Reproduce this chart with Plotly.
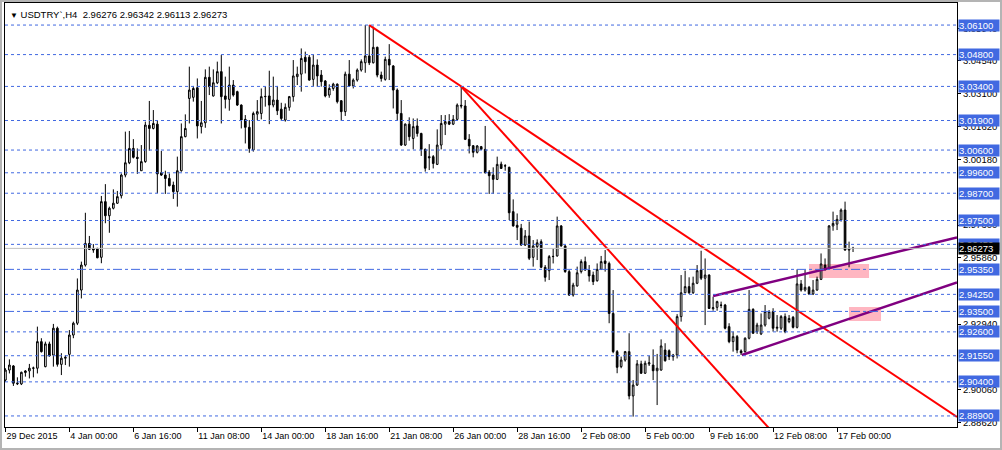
import plotly.graph_objects as go

# ── Data (USDTRY, H4 bars) ───────────────────────────────────────────────────
OPEN = [
    2.9048, 2.9092, 2.9110, 2.9031, 2.9031, 2.9081, 2.9088, 2.9100, 2.9100, 2.9217,
    2.9107, 2.9207, 2.9158, 2.9276, 2.9117, 2.9144, 2.9161, 2.9246, 2.9298, 2.9444,
    2.9554, 2.9649, 2.9627, 2.9627, 2.9588, 2.9833, 2.9771, 2.9804, 2.9826, 2.9859,
    2.9950, 3.0004, 3.0067, 3.0028, 2.9969, 3.0009, 3.0169, 3.0155, 3.0174, 2.9960,
    2.9950, 2.9935, 2.9906, 2.9877, 2.9969, 3.0119, 3.0287, 3.0292, 3.0334, 3.0163,
    3.0180, 3.0380, 3.0298, 3.0356, 3.0405, 3.0298, 3.0283, 3.0346, 3.0317, 3.0258,
    3.0195, 3.0160, 3.0060, 3.0218, 3.0221, 3.0295, 3.0298, 3.0258, 3.0280, 3.0240,
    3.0192, 3.0248, 3.0295, 3.0383, 3.0394, 3.0468, 3.0468, 3.0371, 3.0434, 3.0390,
    3.0364, 3.0302, 3.0331, 3.0350, 3.0277, 3.0229, 3.0394, 3.0342, 3.0368, 3.0412,
    3.0444, 3.0474, 3.0444, 3.0512, 3.0390, 3.0371, 3.0459, 3.0430, 3.0324, 3.0221,
    3.0082, 3.0174, 3.0111, 3.0166, 3.0133, 3.0063, 3.0031, 3.0031, 2.9997, 3.0082,
    3.0174, 3.0185, 3.0174, 3.0195, 3.0257, 3.0254, 3.0107, 3.0079, 3.0050, 3.0075,
    3.0063, 2.9963, 2.9950, 2.9931, 2.9998, 2.9991, 2.9984, 2.9789, 2.9729, 2.9716,
    2.9642, 2.9682, 2.9588, 2.9635, 2.9657, 2.9544, 2.9529, 2.9591, 2.9594, 2.9726,
    2.9638, 2.9525, 2.9422, 2.9462, 2.9525, 2.9569, 2.9532, 2.9510, 2.9485, 2.9535,
    2.9572, 2.9561, 2.9341, 2.9173, 2.9107, 2.9136, 2.9173, 2.8978, 2.9026, 2.9119,
    2.9078, 2.9119, 2.9114, 2.9089, 2.9092, 2.9180, 2.9177, 2.9158, 2.9158, 2.9327,
    2.9432, 2.9459, 2.9432, 2.9474, 2.9532, 2.9496, 2.9510, 2.9362, 2.9368, 2.9378,
    2.9378, 2.9283, 2.9217, 2.9239, 2.9176, 2.9173, 2.9232, 2.9359, 2.9261, 2.9251,
    2.9290, 2.9320, 2.9349, 2.9276, 2.9276, 2.9327, 2.9305, 2.9324, 2.9280, 2.9471,
    2.9444, 2.9456, 2.9427, 2.9444, 2.9491, 2.9554, 2.9544, 2.9726, 2.9734, 2.9752,
    2.9796, 2.9620, 2.96276,
]
HIGH = [
    2.9100, 2.9139, 2.9114, 2.9060, 2.9085, 2.9092, 2.9119, 2.9107, 2.9283, 2.9232,
    2.9217, 2.9217, 2.9295, 2.9283, 2.9166, 2.9158, 2.9268, 2.9305, 2.9495, 2.9569,
    2.9784, 2.9682, 2.9646, 2.9630, 2.9858, 2.9910, 2.9811, 2.9887, 2.9880, 2.9957,
    3.0141, 3.0144, 3.0108, 3.0067, 3.0082, 3.0185, 3.0276, 3.0236, 3.0189, 3.0056,
    2.9969, 2.9957, 2.9921, 3.0031, 3.0177, 3.0217, 3.0427, 3.0342, 3.0375, 3.0276,
    3.0415, 3.0427, 3.0415, 3.0449, 3.0478, 3.0383, 3.0427, 3.0368, 3.0321, 3.0261,
    3.0214, 3.0192, 3.0229, 3.0280, 3.0331, 3.0339, 3.0409, 3.0383, 3.0342, 3.0268,
    3.0265, 3.0298, 3.0456, 3.0427, 3.0507, 3.0493, 3.0478, 3.0478, 3.0459, 3.0412,
    3.0368, 3.0349, 3.0356, 3.0353, 3.0280, 3.0405, 3.0456, 3.0375, 3.0419, 3.0459,
    3.0610, 3.0610, 3.0603, 3.0515, 3.0405, 3.0471, 3.0526, 3.0434, 3.0331, 3.0280,
    3.0177, 3.0204, 3.0199, 3.0199, 3.0136, 3.0067, 3.0086, 3.0038, 3.0151, 3.0214,
    3.0214, 3.0218, 3.0214, 3.0265, 3.0339, 3.0280, 3.0130, 3.0082, 3.0082, 3.0078,
    3.0166, 2.9972, 2.9984, 3.0031, 3.0009, 2.9998, 2.9987, 2.9843, 2.9781, 2.9735,
    2.9708, 2.9745, 2.9664, 2.9667, 2.9667, 2.9554, 2.9598, 2.9627, 2.9767, 2.9730,
    2.9642, 2.9532, 2.9476, 2.9547, 2.9579, 2.9591, 2.9554, 2.9525, 2.9561, 2.9594,
    2.9620, 2.9569, 2.9444, 2.9180, 2.9151, 2.9176, 2.9254, 2.9048, 2.9136, 2.9133,
    2.9133, 2.9154, 2.9183, 2.9163, 2.9227, 2.9210, 2.9183, 2.9163, 2.9338, 2.9510,
    2.9529, 2.9500, 2.9503, 2.9554, 2.9617, 2.9583, 2.9513, 2.9415, 2.9397, 2.9393,
    2.9383, 2.9298, 2.9261, 2.9246, 2.9183, 2.9236, 2.9444, 2.9364, 2.9300, 2.9341,
    2.9378, 2.9356, 2.9364, 2.9334, 2.9334, 2.9341, 2.9334, 2.9330, 2.9535, 2.9488,
    2.9532, 2.9462, 2.9488, 2.9503, 2.9605, 2.9583, 2.9730, 2.9789, 2.9774, 2.9803,
    2.9833, 2.9657, 2.96342,
]
LOW = [
    2.9041, 2.9077, 2.9022, 2.9026, 2.9026, 2.9063, 2.9055, 2.9060, 2.9077, 2.9169,
    2.9104, 2.9151, 2.9107, 2.9107, 2.9070, 2.9114, 2.9107, 2.9232, 2.9290, 2.9407,
    2.9547, 2.9620, 2.9608, 2.9584, 2.9562, 2.9738, 2.9696, 2.9799, 2.9823, 2.9847,
    2.9940, 2.9998, 3.0023, 2.9955, 2.9968, 3.0004, 3.0057, 3.0151, 2.9870, 2.9946,
    2.9867, 2.9900, 2.9845, 2.9811, 2.9965, 3.0116, 3.0177, 3.0273, 3.0111, 3.0133,
    3.0158, 3.0302, 3.0295, 3.0350, 3.0177, 3.0243, 3.0233, 3.0295, 3.0254, 3.0155,
    3.0089, 3.0048, 3.0053, 3.0192, 3.0195, 3.0251, 3.0174, 3.0248, 3.0214, 3.0189,
    3.0185, 3.0233, 3.0273, 3.0346, 3.0317, 3.0397, 3.0365, 3.0342, 3.0339, 3.0339,
    3.0292, 3.0290, 3.0321, 3.0265, 3.0189, 3.0210, 3.0339, 3.0331, 3.0361, 3.0405,
    3.0400, 3.0434, 3.0441, 3.0380, 3.0361, 3.0365, 3.0368, 3.0243, 3.0192, 3.0078,
    3.0078, 3.0101, 3.0063, 3.0119, 3.0034, 2.9965, 2.9972, 2.9979, 2.9994, 3.0063,
    3.0126, 3.0170, 3.0170, 3.0192, 3.0243, 3.0104, 3.0045, 3.0028, 3.0045, 3.0060,
    2.9957, 2.9867, 2.9867, 2.9928, 2.9977, 2.9969, 2.9752, 2.9723, 2.9664, 2.9639,
    2.9638, 2.9576, 2.9547, 2.9576, 2.9540, 2.9481, 2.9488, 2.9561, 2.9591, 2.9635,
    2.9520, 2.9418, 2.9415, 2.9459, 2.9517, 2.9529, 2.9481, 2.9466, 2.9481, 2.9532,
    2.9525, 2.9298, 2.9166, 2.9078, 2.9100, 2.9129, 2.8963, 2.8887, 2.9022, 2.9075,
    2.9075, 2.9110, 2.9048, 2.8938, 2.9089, 2.9129, 2.9136, 2.9133, 2.9143, 2.9305,
    2.9430, 2.9427, 2.9427, 2.9470, 2.9488, 2.9290, 2.9361, 2.9353, 2.9353, 2.9364,
    2.9271, 2.9210, 2.9173, 2.9166, 2.9158, 2.9168, 2.9227, 2.9251, 2.9251, 2.9246,
    2.9283, 2.9315, 2.9261, 2.9261, 2.9268, 2.9254, 2.9298, 2.9275, 2.9275, 2.9437,
    2.9437, 2.9422, 2.9422, 2.9441, 2.9488, 2.9529, 2.9540, 2.9705, 2.9708, 2.9745,
    2.9617, 2.9544, 2.96113,
]
CLOSE = [
    2.9092, 2.9114, 2.9034, 2.9034, 2.9082, 2.9088, 2.9100, 2.9101, 2.9217, 2.9173,
    2.9207, 2.9154, 2.9276, 2.9117, 2.9144, 2.9148, 2.9246, 2.9298, 2.9444, 2.9554,
    2.9649, 2.9623, 2.9620, 2.9586, 2.9833, 2.9771, 2.9804, 2.9826, 2.9855, 2.9950,
    3.0004, 3.0067, 3.0028, 3.0023, 3.0009, 3.0170, 3.0155, 3.0177, 2.9955, 2.9950,
    2.9935, 2.9903, 2.9877, 2.9969, 3.0119, 3.0155, 3.0324, 3.0331, 3.0166, 3.0180,
    3.0380, 3.0339, 3.0356, 3.0405, 3.0295, 3.0283, 3.0346, 3.0302, 3.0258, 3.0192,
    3.0160, 3.0067, 3.0221, 3.0229, 3.0295, 3.0296, 3.0258, 3.0280, 3.0233, 3.0199,
    3.0248, 3.0295, 3.0386, 3.0394, 3.0463, 3.0449, 3.0368, 3.0434, 3.0386, 3.0361,
    3.0298, 3.0331, 3.0350, 3.0273, 3.0229, 3.0394, 3.0342, 3.0368, 3.0412, 3.0449,
    3.0474, 3.0444, 3.0512, 3.0390, 3.0375, 3.0459, 3.0434, 3.0324, 3.0221, 3.0082,
    3.0174, 3.0119, 3.0163, 3.0133, 3.0063, 2.9980, 3.0026, 3.0001, 3.0082, 3.0177,
    3.0185, 3.0174, 3.0195, 3.0258, 3.0254, 3.0107, 3.0078, 3.0050, 3.0078, 3.0063,
    2.9960, 2.9947, 2.9931, 2.9997, 2.9979, 2.9990, 2.9784, 2.9726, 2.9720, 2.9642,
    2.9682, 2.9584, 2.9638, 2.9652, 2.9544, 2.9500, 2.9591, 2.9592, 2.9726, 2.9638,
    2.9525, 2.9422, 2.9466, 2.9520, 2.9569, 2.9532, 2.9506, 2.9481, 2.9535, 2.9569,
    2.9561, 2.9341, 2.9173, 2.9104, 2.9136, 2.9173, 2.8978, 2.9026, 2.9119, 2.9078,
    2.9122, 2.9124, 2.9089, 2.9100, 2.9198, 2.9133, 2.9151, 2.9151, 2.9327, 2.9432,
    2.9459, 2.9432, 2.9474, 2.9529, 2.9496, 2.9510, 2.9363, 2.9366, 2.9393, 2.9377,
    2.9276, 2.9217, 2.9239, 2.9180, 2.9168, 2.9232, 2.9359, 2.9254, 2.9290, 2.9290,
    2.9350, 2.9349, 2.9276, 2.9280, 2.9327, 2.9261, 2.9319, 2.9280, 2.9471, 2.9444,
    2.9456, 2.9427, 2.9444, 2.9491, 2.9559, 2.9535, 2.9726, 2.9737, 2.9755, 2.9796,
    2.9620, 2.9624, 2.96273,
]
BARS = list(range(len(CLOSE)))

# time axis: one label every 16 H4 bars
TICK_BARS = list(range(0, 209, 16))
TICK_TEXT = ["29 Dec 2015", "4 Jan 00:00", "6 Jan 16:00", "11 Jan 08:00", "14 Jan 00:00",
             "18 Jan 16:00", "21 Jan 08:00", "26 Jan 00:00", "28 Jan 16:00", "2 Feb 08:00",
             "5 Feb 00:00", "9 Feb 16:00", "12 Feb 08:00", "17 Feb 00:00"]

# price scale labels (the ones not hidden by the level labels)
PRICE_TICKS = [3.0594, 3.0454, 3.0310, 3.0162, 3.0018, 2.9730, 2.9586, 2.9294, 2.9006, 2.8862]

# horizontal levels
LEVELS_DASH = [3.0610, 3.0480, 3.0340, 3.0190, 3.0060, 2.9960, 2.9870, 2.9750, 2.9645,
               2.9425, 2.9260, 2.9155, 2.9040, 2.8890]
LEVELS_DASHDOT = [2.9535, 2.9350]
BID = 2.96273

# trend lines: (bar, price) end points
RED_LINES = [([91, 238], [3.0610, 2.8886]),
             ([114, 200], [3.0339, 2.8660])]
PURPLE_LINES = [([177, 238], [2.9418, 2.9675]),
                ([184.2, 238], [2.9158, 2.9477])]
# support zones: (bar0, bar1, price0, price1)
ZONES = [(201, 216, 2.9497, 2.9559),
         (211, 219, 2.9308, 2.9369)]

# ── Style ────────────────────────────────────────────────────────────────────
BLUE = "#4169E1"
FONT = "Liberation Sans, Arial, sans-serif"
X_RANGE = [-0.1, 238.0]
Y_RANGE = [2.88414, 3.0707]

fig = go.Figure()
fig.add_trace(go.Candlestick(
    x=BARS, open=OPEN, high=HIGH, low=LOW, close=CLOSE,
    increasing=dict(fillcolor="#FFFFFF", line=dict(color="#000000", width=1)),
    decreasing=dict(fillcolor="#000000", line=dict(color="#000000", width=1)),
    whiskerwidth=0, showlegend=False, hoverinfo="skip",
))
for xs, ys in RED_LINES:
    fig.add_trace(go.Scatter(x=xs, y=ys, mode="lines", showlegend=False, hoverinfo="skip",
                             line=dict(color="#FF0000", width=2)))
for xs, ys in PURPLE_LINES:
    fig.add_trace(go.Scatter(x=xs, y=ys, mode="lines", showlegend=False, hoverinfo="skip",
                             line=dict(color="#800080", width=2.5)))

shapes = []
for b0, b1, p0, p1 in ZONES:
    shapes.append(dict(type="rect", xref="x", yref="y", x0=b0, x1=b1, y0=p0, y1=p1,
                       fillcolor="#FFB6C1", line=dict(width=0), layer="below"))
for lv in LEVELS_DASH:
    shapes.append(dict(type="line", xref="paper", yref="y", x0=0, x1=1, y0=lv, y1=lv,
                       line=dict(color=BLUE, width=1, dash="3px,3px")))
for lv in LEVELS_DASHDOT:
    shapes.append(dict(type="line", xref="paper", yref="y", x0=0, x1=1, y0=lv, y1=lv,
                       line=dict(color=BLUE, width=1, dash="9px,3px,3px,3px")))
shapes.append(dict(type="line", xref="paper", yref="y", x0=0, x1=1, y0=BID, y1=BID,
                   line=dict(color="#C0C0C0", width=1)))
# window frame
shapes.append(dict(type="rect", xref="paper", yref="paper",
                   x0=-4 / 952, x1=1 + 44 / 952, y0=-22 / 424, y1=1 + 2 / 424,
                   line=dict(color="#B4B4B4", width=2), fillcolor="rgba(0,0,0,0)"))

annotations = []
for lv in LEVELS_DASH + LEVELS_DASHDOT:
    annotations.append(dict(xref="paper", yref="y", x=1, y=lv, xanchor="left", yanchor="middle",
                            xshift=1, text=f"{lv:.5f}", showarrow=False, align="left",
                            width=40, height=11, borderpad=0, bgcolor=BLUE,
                            font=dict(family=FONT, size=9.5, color="#FFFFFF")))
annotations.append(dict(xref="paper", yref="y", x=1, y=BID, xanchor="left", yanchor="middle",
                        xshift=1, text=f"{BID:.5f}", showarrow=False, align="left",
                        width=40, height=11, borderpad=0, bgcolor="#000000",
                        font=dict(family=FONT, size=9.5, color="#FFFFFF")))
annotations.append(dict(xref="paper", yref="paper", x=0, y=1, xanchor="left", yanchor="top",
                        xshift=3, yshift=-4, showarrow=False, align="left",
                        text="<span style='font-size:8px'>▼</span> USDTRY`,H4  "
                             f"{OPEN[-1]:.5f} {HIGH[-1]:.5f} {LOW[-1]:.5f} {CLOSE[-1]:.5f}",
                        font=dict(family=FONT, size=9.5, color="#000000")))

fig.update_layout(
    width=1002, height=450,
    margin=dict(l=5, r=45, t=3, b=23),
    paper_bgcolor="#FFFFFF", plot_bgcolor="#FFFFFF",
    font=dict(family=FONT, size=9.5, color="#000000"),
    showlegend=False, boxgap=0.4,
    shapes=shapes, annotations=annotations,
)
fig.update_xaxes(
    range=X_RANGE, rangeslider=dict(visible=False),
    tickmode="array", tickvals=TICK_BARS, ticktext=TICK_TEXT, tickangle=0,
    ticklabelposition="outside right", ticks="outside", ticklen=4, tickcolor="#000000",
    showgrid=False, zeroline=False, showline=True, linecolor="#000000", linewidth=1, mirror=True,
    tickfont=dict(family=FONT, size=9, color="#000000"),
)
fig.update_yaxes(
    range=Y_RANGE, side="right",
    tickmode="array", tickvals=PRICE_TICKS, ticktext=[f"{v:.5f}" for v in PRICE_TICKS],
    ticks="outside", ticklen=3, tickcolor="#000000",
    showgrid=False, zeroline=False, showline=True, linecolor="#000000", linewidth=1, mirror=True,
    tickfont=dict(family=FONT, size=9.5, color="#000000"),
)

# the page body has a default 8px margin; remove it so the chart sits at the window's corner
fig.write_html("out.html", config={"displayModeBar": False},
               post_script="document.body.style.margin='0';")
